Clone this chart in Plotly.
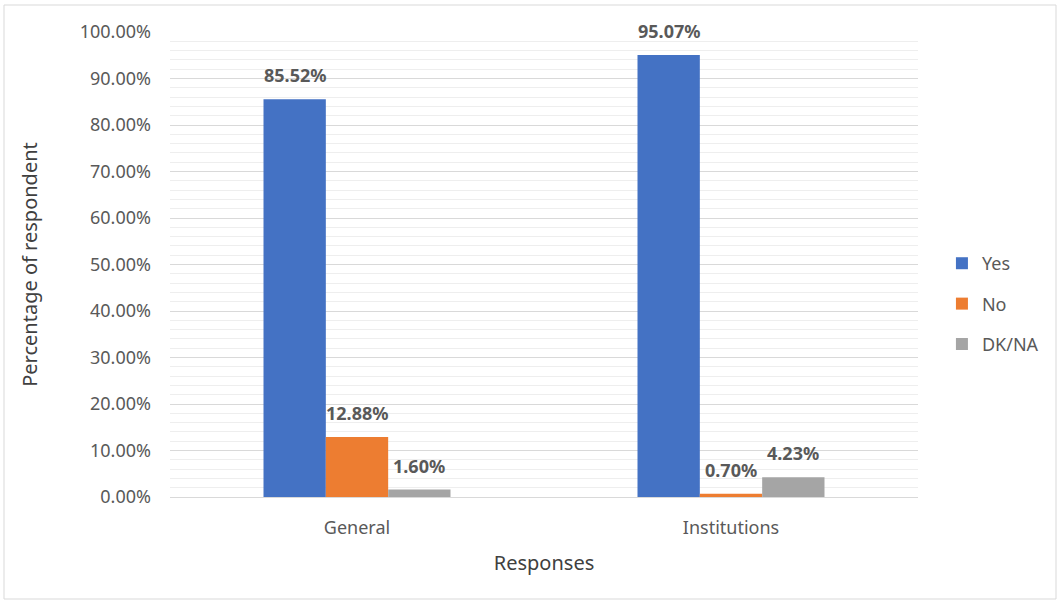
import plotly.graph_objects as go

categories = ["General", "Institutions"]
series_names = ["Yes", "No", "DK/NA"]
yes_vals = [0.8552, 0.9507]
no_vals = [0.1288, 0.0070]
dk_vals = [0.0160, 0.0423]
colors = ["#4472C4", "#ED7D31", "#A5A5A5"]
y_ticks = [i / 10 for i in range(11)]

FONT = "Noto Sans"
PLOT_W = 748
BAR_W = PLOT_W / len(categories) * 0.5 / len(series_names)

fig = go.Figure()
for name, vals, col in zip(series_names, [yes_vals, no_vals, dk_vals], colors):
    fig.add_trace(go.Bar(
        x=categories, y=vals, name=name, legendgroup=name,
        marker=dict(color=col, line=dict(width=0)),
        hoverinfo="x+y+name",
    ))

annotations = []
for si, vals in enumerate([yes_vals, no_vals, dk_vals]):
    for cat, v in zip(categories, vals):
        annotations.append(dict(
            x=cat, y=v, xref="x", yref="y", text=f"<b>{v:.2%}</b>",
            showarrow=False, yanchor="bottom", yshift=10,
            xshift=(si - 1) * BAR_W,
            font=dict(family=FONT, size=18, color="#595959"),
        ))

fig.update_layout(
    width=1060, height=602,
    paper_bgcolor="white", plot_bgcolor="white",
    margin=dict(l=170, r=142, t=32, b=105),
    barmode="group", bargap=0.5, bargroupgap=0,
    font=dict(family=FONT, size=18, color="#595959"),
    legend=dict(x=1.032, xanchor="left", y=0.415, yanchor="middle",
                font=dict(size=18, color="#595959"), tracegroupgap=14,
                itemwidth=30, bgcolor="rgba(0,0,0,0)"),
    xaxis=dict(showline=True, linecolor="#d9d9d9", linewidth=1, ticks="",
               ticklabelstandoff=14,
               title=dict(text="Responses", font=dict(size=20, color="#404040"), standoff=18),
               tickfont=dict(size=18, color="#595959")),
    yaxis=dict(range=[0, 1.0], tickvals=y_ticks, tickformat=".2%",
               gridcolor="#d9d9d9", gridwidth=1, zeroline=False,
               minor=dict(dtick=0.02, showgrid=True, gridcolor="#eeeeee", gridwidth=1),
               ticklabelstandoff=18,
               title=dict(text="Percentage of respondent", font=dict(size=20, color="#404040"), standoff=36),
               tickfont=dict(size=18, color="#595959")),
    annotations=annotations,
    shapes=[dict(type="rect", xref="paper", yref="paper",
                 x0=(4 - 170) / 748, x1=(1056 - 170) / 748,
                 y0=(497 - 599) / 465, y1=(497 - 5) / 465,
                 line=dict(color="#d9d9d9", width=1), fillcolor="rgba(0,0,0,0)", layer="below")],
)

fig.write_html("out.html", config={"displayModeBar": False},
               post_script="document.body.style.margin='0';document.body.style.overflow='hidden';")
